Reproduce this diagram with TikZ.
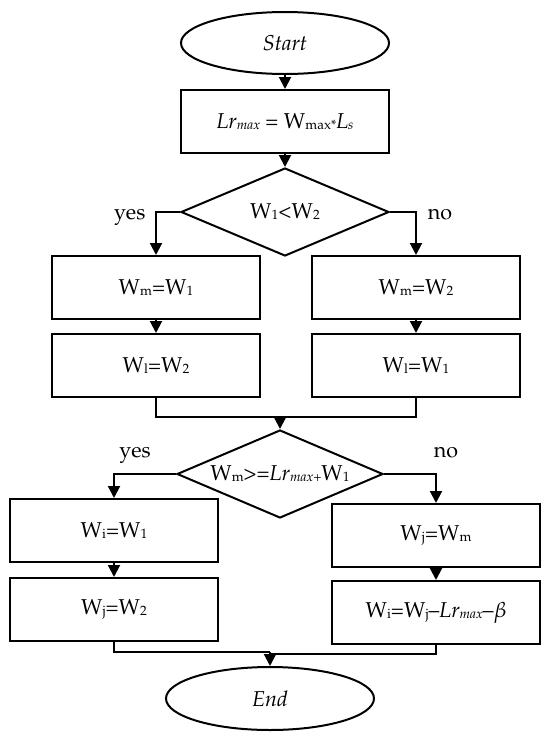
\documentclass[tikz,border=0pt]{standalone}
\usepackage[T1]{fontenc}
\usepackage{mathpazo}
\usetikzlibrary{shapes.geometric,arrows.meta}
\newcommand{\ssb}[1]{\raisebox{-1pt}{\fontsize{13.5}{14}\selectfont #1}}
\newcommand{\Lrm}{\textit{Lr}\ssb{\textit{max}}}
\begin{document}
\begin{tikzpicture}[x=1pt,y=-1pt,
  every node/.style={font=\fontsize{21.5}{25}\selectfont},
  shapebox/.style={draw=black, line width=2pt, inner sep=0pt},
  proc/.style={shapebox, rectangle, minimum width=208pt, minimum height=63pt},
  term/.style={shapebox, ellipse, minimum width=208pt, minimum height=62pt},
  dec/.style={shapebox, diamond, minimum width=206pt, minimum height=88pt, aspect=2.34},
  conn/.style={line width=2pt, -{Triangle[length=12pt,width=12pt]}},
  lnk/.style={line width=2pt},
  lbl/.style={anchor=base, inner sep=0pt}
]
\useasboundingbox (0,0) rectangle (550,740);
\fill[white] (0,0) rectangle (550,740);

\node[term] (start) at (285,43) {\textit{Start}};
\node[proc] (b1) at (285,121.5) {\Lrm{} = W\ssb{max*}\textit{L}\ssb{\textit{s}}};
\node[dec, minimum width=208pt] (d1) at (285,212) {W\ssb{1}\textless W\ssb{2}};
\node[proc] (l1) at (156,287.5) {W\ssb{m}=W\ssb{1}};
\node[proc] (l2) at (156,365.5) {W\ssb{l}=W\ssb{2}};
\node[proc] (r1) at (416,287.5) {W\ssb{m}=W\ssb{2}};
\node[proc] (r2) at (416,365.5) {W\ssb{l}=W\ssb{1}};
\node[dec] (d2) at (280,474) {W\ssb{m}\textgreater=\textit{Lr}\ssb{\textit{max+}}W\ssb{1}};
\node[proc] (ll1) at (114,530.5) {W\ssb{i}=W\ssb{1}};
\node[proc] (ll2) at (114,609.5) {W\ssb{j}=W\ssb{2}};
\node[proc] (rl1) at (436,535.5) {W\ssb{j}=W\ssb{m}};
\node[proc] (rl2) at (436,612.5) {W\ssb{i}=W\ssb{j}--\Lrm--$\beta$};
\node[term, minimum height=63pt] (fin) at (270,698.5) {\textit{End}};

\node[lbl] (y1) at (129.7,219) {yes};
\node[lbl] (n1) at (440,219) {no};
\node[lbl] (y2) at (135,457) {yes};
\node[lbl] (n2) at (446,457) {no};

\draw[conn] (start.south) -- (b1.north);
\draw[conn] (b1.south) -- (d1.north);
\draw[conn] (d1.west) -| (l1.north);
\draw[conn] (d1.east) -| (r1.north);
\draw[conn] (l1.south) -- (l2.north);
\draw[conn] (r1.south) -- (r2.north);
\coordinate (m1) at (280,417);
\draw[lnk] (l2.south) |- (m1) -| (r2.south);
\draw[conn] (m1) -- (d2.north);
\draw[conn] (d2.west) -| (ll1.north);
\draw[conn] (d2.east) -| (rl1.north);
\draw[conn] (ll1.south) -- (ll2.north);
\draw[conn] (rl1.south) -- (rl2.north);
\coordinate (m2) at (270,652);
\coordinate (m3) at (270,654);
\draw[lnk] (ll2.south) |- (m2);
\draw[lnk] (rl2.south) |- (m3);
\draw[conn] (m2) -- (fin.north);
\end{tikzpicture}
\end{document}
